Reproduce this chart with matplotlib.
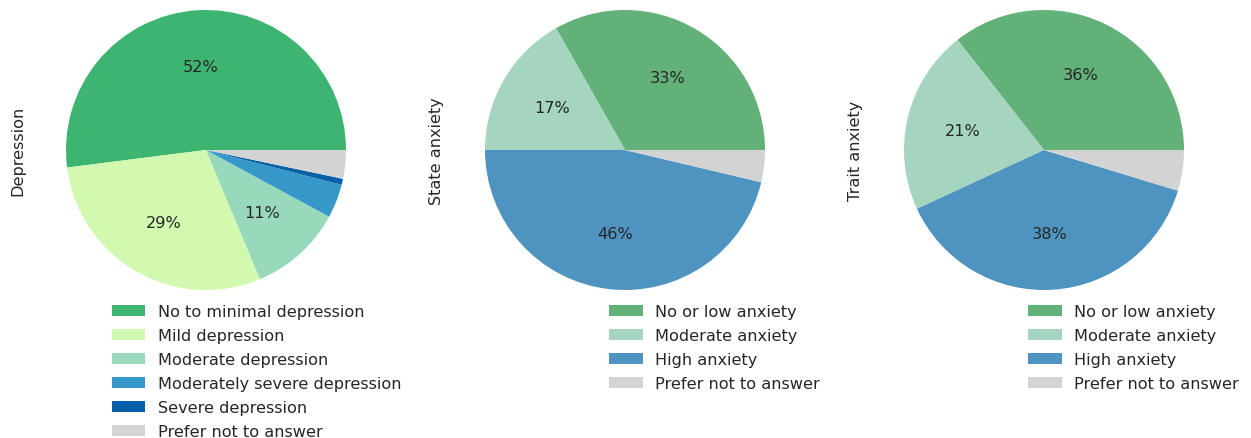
import matplotlib
matplotlib.use("Agg")
import matplotlib.pyplot as plt

plt.rcParams['font.family'] = ['DejaVu Sans']
plt.rcParams['text.color'] = '#262626'
plt.rcParams['axes.labelcolor'] = '#262626'

dep_labels = ["No to minimal depression", "Mild depression", "Moderate depression",
              "Moderately severe depression", "Severe depression", "Prefer not to answer"]
dep_values = [52.0, 29.3, 10.8, 3.9, 0.7, 3.3]
dep_colors = ["#3db571", "#d1fab0", "#98d8bb", "#3698c9", "#0660a8", "#d3d3d3"]

anx_labels = ["No or low anxiety", "Moderate anxiety", "High anxiety", "Prefer not to answer"]
state_values = [33.2, 16.8, 46.3, 3.7]
trait_values = [35.6, 21.3, 38.4, 4.7]
anx_colors = ["#62b178", "#a5d5be", "#4f94c0", "#d3d3d3"]

W, H = 1251, 439
fig = plt.figure(figsize=(W / 100, H / 100), dpi=100)
fs = 11.6

def autopct(p):
    return "%.0f%%" % p if p > 5 else ""

panels = [
    ("Depression", dep_values, dep_labels, dep_colors, 206),
    ("State anxiety", state_values, anx_labels, anx_colors, 625),
    ("Trait anxiety", trait_values, anx_labels, anx_colors, 1044),
]

r = 140  # pie radius in px
cy = 151
for name, vals, labels, colors, cx in panels:
    size = 2.5 * r
    ax = fig.add_axes([(cx - size / 2) / W, (H - cy - size / 2) / H, size / W, size / H])
    wedges, texts, pcts = ax.pie(vals, colors=colors, autopct=autopct, startangle=0,
                                 textprops={'fontsize': fs, 'color': '#262626'})
    ax.set_xlim(-1.25, 1.25)
    ax.set_ylim(-1.25, 1.25)
    ax.set_ylabel(name, fontsize=fs)
    ax.legend(wedges, labels, loc='upper right', bbox_to_anchor=(1.44, -1.055),
              bbox_transform=ax.transData, frameon=False, borderaxespad=0,
              fontsize=fs, handlelength=2.05, handletextpad=0.8, labelspacing=0.56)

fig.savefig("out.png", dpi=100)
